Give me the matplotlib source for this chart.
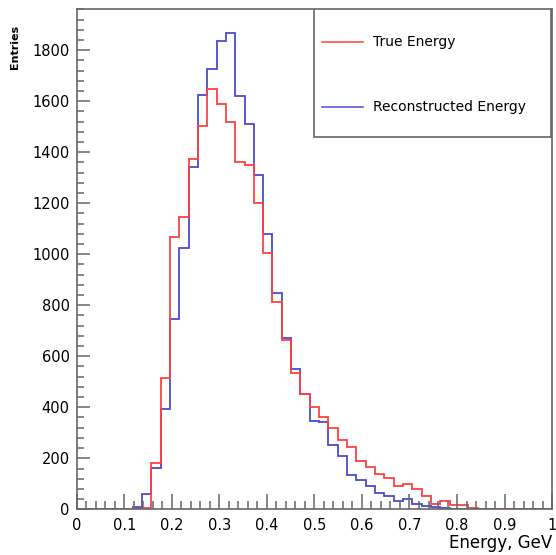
import numpy as np
import matplotlib
matplotlib.use('Agg')
import matplotlib.pyplot as plt
from matplotlib.ticker import MultipleLocator, FuncFormatter
from matplotlib.patches import Rectangle
from matplotlib.lines import Line2D

# 51 bins from 0 to 1 GeV
n_bins = 51
edges = np.linspace(0.0, 1.0, n_bins + 1)

true_energy = [0, 0, 0, 0, 0, 1, 2, 4, 183, 516,
               1069, 1145, 1372, 1503, 1648, 1589, 1519, 1363, 1349, 1200,
               1006, 814, 664, 535, 451, 402, 361, 317, 272, 243,
               188, 164, 137, 124, 91, 99, 78, 52, 21, 34,
               17, 17, 6, 0, 0, 0, 0, 0, 0, 0, 0]
reco_energy = [0, 0, 1, 3, 2, 3, 10, 60, 161, 394,
               746, 1023, 1343, 1623, 1725, 1837, 1866, 1620, 1509, 1311,
               1078, 847, 670, 549, 451, 346, 341, 252, 209, 134,
               115, 90, 63, 52, 34, 40, 21, 13, 9, 6,
               0, 0, 0, 0, 0, 0, 0, 0, 0, 0, 0]

red = '#ff4040'
blue = '#4a4ad0'
frame = '#666666'

fig = plt.figure(figsize=(5.56, 5.55), dpi=100)
ax = fig.add_axes([0.138, 0.0823, 0.855, 0.9009])

ax.stairs(reco_energy, edges, color=blue, lw=1.3)
ax.stairs(true_energy, edges, color=red, lw=1.3)

ax.set_xlim(0, 1)
ax.set_ylim(0, 1960)

for s in ax.spines.values():
    s.set_color(frame)
    s.set_linewidth(1.2)

ax.xaxis.set_major_locator(MultipleLocator(0.1))
ax.xaxis.set_minor_locator(MultipleLocator(0.02))
ax.yaxis.set_minor_locator(MultipleLocator(40))
ax.xaxis.set_major_formatter(FuncFormatter(lambda v, p: f'{v:g}'))
ax.set_yticks(np.arange(0, 1801, 200))

ax.tick_params(axis='x', which='major', direction='in', length=10.5, width=1.1,
               color=frame, labelsize=10.5, pad=6)
ax.tick_params(axis='x', which='minor', direction='in', length=5.5, width=1.1, color=frame)
ax.tick_params(axis='y', which='major', direction='in', length=9.5, width=1.1,
               color=frame, labelsize=10.5, pad=5)
ax.tick_params(axis='y', which='minor', direction='in', length=5, width=1.1, color=frame)

ax.set_xlabel('Energy, GeV', fontsize=12, loc='right', labelpad=1)
ax.set_ylabel('Entries', fontsize=8, fontweight='bold')
ax.yaxis.set_label_coords(-0.12, 0.925)

# legend box in the top right corner
box = Rectangle((0.499, 0.745), 0.499, 0.255, transform=ax.transAxes,
                facecolor='white', edgecolor=frame, lw=1.2, zorder=5)
ax.add_patch(box)
entries = [('True Energy', red, 0.935), ('Reconstructed Energy', blue, 0.805)]
for label, col, yy in entries:
    ax.add_line(Line2D([0.516, 0.602], [yy, yy], transform=ax.transAxes,
                       color=col, lw=1.1, zorder=6))
    ax.text(0.624, yy, label, transform=ax.transAxes, fontsize=10,
            va='center', ha='left', zorder=6)

fig.savefig('out.png', dpi=100)
